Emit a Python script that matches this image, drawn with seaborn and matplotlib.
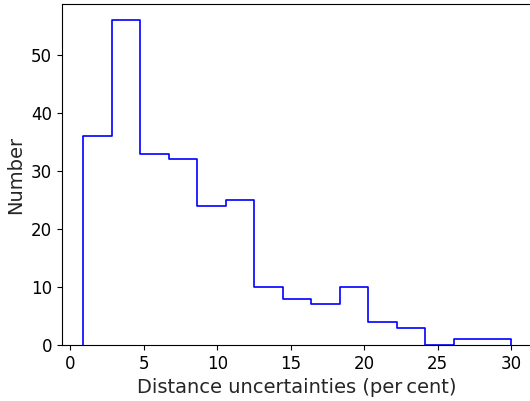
import numpy as np
import pandas as pd
import matplotlib
matplotlib.use("Agg")
import matplotlib.pyplot as plt
import seaborn as sns

# Histogram of distance uncertainties: 15 equal bins between the extreme values
lo_edge = 0.87
hi_edge = 30.0
counts = [36, 56, 33, 32, 24, 25, 10, 8, 7, 10, 4, 3, 0, 1, 1]

edges = np.linspace(lo_edge, hi_edge, len(counts) + 1)
centers = 0.5 * (edges[:-1] + edges[1:])
df = pd.DataFrame({"uncertainty": centers, "n": counts})

sns.set_style("ticks")
plt.rcParams["font.family"] = ["DejaVu Sans"]

fig = plt.figure(figsize=(5.30, 4.01), dpi=100, facecolor="white")
# axes run past the right edge of the figure, so no right frame line shows
ax = fig.add_axes([61.8 / 530, 56 / 401, 470.6 / 530, 341 / 401])
ax.patch.set_visible(False)

sns.histplot(data=df, x="uncertainty", weights="n", bins=len(counts),
             binrange=(lo_edge, hi_edge),
             element="step", fill=False, color="blue", linewidth=1.2, ax=ax)
# close the outline down to zero at both outer edges
ax.vlines([edges[0], edges[-1]], 0, [counts[0], counts[-1]],
          color="blue", linewidth=1.2)

ax.set_xlabel("Distance uncertainties (per\u2009cent)", fontsize=14)
ax.set_ylabel("Number", fontsize=14)
ax.tick_params(labelsize=12, direction="out", length=3.5, width=0.8, colors="black")
ax.set_xticks([0, 5, 10, 15, 20, 25, 30])
ax.set_yticks([0, 10, 20, 30, 40, 50])
span = hi_edge - lo_edge
ax.set_xlim(lo_edge - 0.05 * span, hi_edge + 0.05 * span)
ax.set_ylim(0, 56 * 1.05)
for s in ax.spines.values():
    s.set_color("black")
    s.set_linewidth(0.8)
ax.spines["right"].set_visible(False)

fig.savefig("out.png", dpi=100, facecolor="white")
